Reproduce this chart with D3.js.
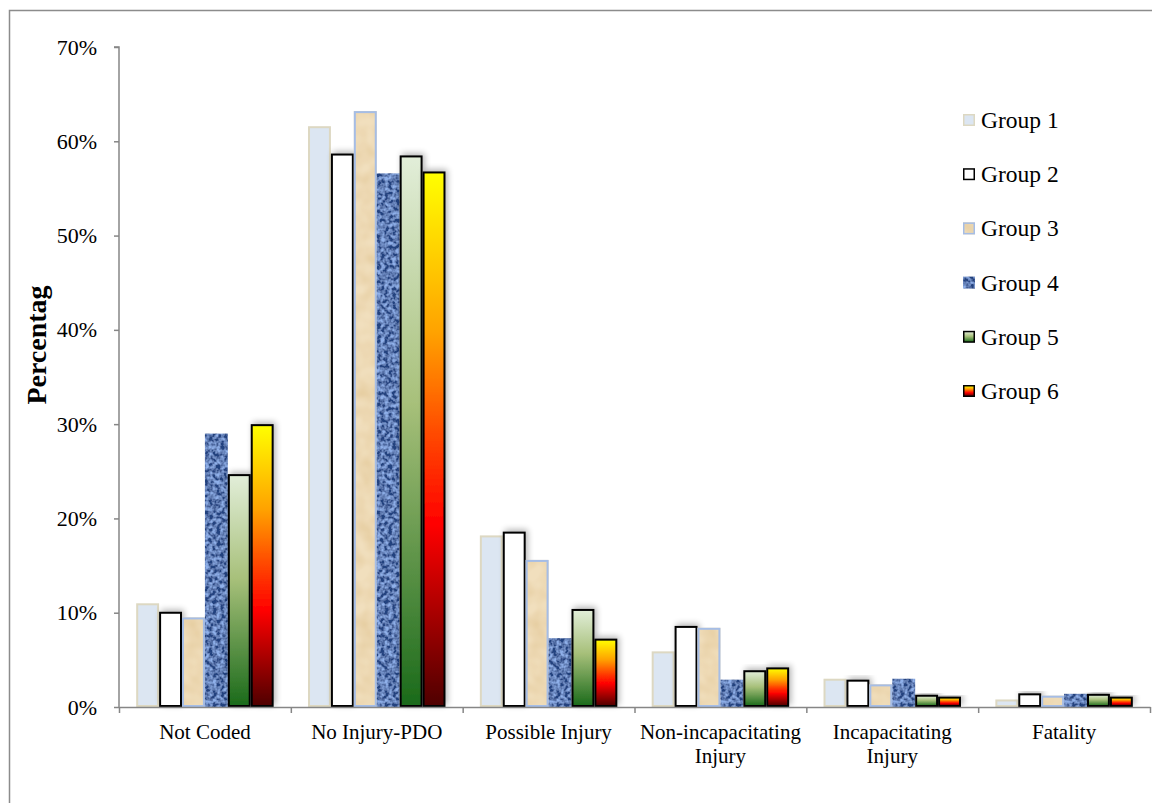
<!DOCTYPE html>
<html>
<head>
<meta charset="utf-8">
<script src="https://cdn.jsdelivr.net/npm/d3@7"></script>
<style>
  html, body { margin: 0; padding: 0; background: #fff; }
  svg { display: block; font-family: "Liberation Serif", "Times New Roman", serif; }
</style>
</head>
<body>
<svg id="chart" width="1152" height="803"></svg>
<script>
// Injury severity categories
const categories = ["Not Coded", "No Injury-PDO", "Possible Injury", "Non-incapacitating Injury", "Incapacitating Injury", "Fatality"];
const groups = ["Group 1", "Group 2", "Group 3", "Group 4", "Group 5", "Group 6"];

// Percentage of crashes in each category, per group
const group1 = [11.0, 61.6, 18.2, 5.9, 3.0, 0.8];
const group2 = [10.1, 58.7, 18.6, 8.6, 2.9, 1.45];
const group3 = [9.5, 63.2, 15.6, 8.4, 2.4, 1.2];
const group4 = [29.0, 56.6, 7.3, 2.9, 3.0, 1.4];
const group5 = [24.7, 58.5, 10.4, 3.9, 1.3, 1.4];
const group6 = [30.0, 56.8, 7.25, 4.2, 1.1, 1.1];

const yTicks = [0, 10, 20, 30, 40, 50, 60, 70];

const series = [group1, group2, group3, group4, group5, group6];

const svg = d3.select("#chart");
const W = 1152, H = 803;
const plot = { left: 119, right: 1150, top: 47, bottom: 707 };

// Outer chart frame (open on the right)
svg.append("path")
  .attr("d", `M${W},10.5 H9.5 V${H}`)
  .attr("fill", "none").attr("stroke", "#8c8c8c").attr("stroke-width", 1.5);

const defs = svg.append("defs");

// Gradients for groups 5 and 6
const g5 = defs.append("linearGradient").attr("id", "grad5").attr("x1", 0).attr("y1", 0).attr("x2", 0).attr("y2", 1);
[["0%", "#e2eed9"], ["45%", "#a7c07a"], ["100%", "#1a6a1a"]].forEach(s => g5.append("stop").attr("offset", s[0]).attr("stop-color", s[1]));
const g6 = defs.append("linearGradient").attr("id", "grad6").attr("x1", 0).attr("y1", 0).attr("x2", 0).attr("y2", 1);
[["0%", "#ffff00"], ["30%", "#ffa200"], ["52%", "#ff3c00"], ["66%", "#ff0000"], ["100%", "#4e0000"]].forEach(s => g6.append("stop").attr("offset", s[0]).attr("stop-color", s[1]));

// Denim-like texture for group 4
const denim = defs.append("filter").attr("id", "denim").attr("x", 0).attr("y", 0).attr("width", 1).attr("height", 1);
denim.append("feTurbulence").attr("type", "fractalNoise").attr("baseFrequency", 0.26).attr("numOctaves", 2).attr("seed", 3).attr("result", "noise");
denim.append("feColorMatrix").attr("in", "noise").attr("type", "matrix")
  .attr("values", "0 0 0 0 0  0 0 0 0 0  0 0 0 0 0  0 0 0 -2.4 1.8").attr("result", "mask");
denim.append("feFlood").attr("flood-color", "#8fb0ea").attr("result", "light");
denim.append("feFlood").attr("flood-color", "#24427f").attr("result", "dark");
denim.append("feComposite").attr("in", "dark").attr("in2", "mask").attr("operator", "in").attr("result", "darkSpots");
denim.append("feComposite").attr("in", "darkSpots").attr("in2", "light").attr("operator", "over").attr("result", "tex");
denim.append("feComposite").attr("in", "tex").attr("in2", "SourceAlpha").attr("operator", "in");

// Parchment texture for group 3
const parch = defs.append("filter").attr("id", "parch").attr("x", 0).attr("y", 0).attr("width", 1).attr("height", 1);
parch.append("feTurbulence").attr("type", "fractalNoise").attr("baseFrequency", 0.06).attr("numOctaves", 2).attr("seed", 7).attr("result", "noise");
parch.append("feColorMatrix").attr("in", "noise").attr("type", "matrix")
  .attr("values", "0 0 0 0 0  0 0 0 0 0  0 0 0 0 0  0 0 0 1.2 -0.35").attr("result", "mask");
parch.append("feFlood").attr("flood-color", "#f1dfbd").attr("result", "base");
parch.append("feFlood").attr("flood-color", "#e2c796").attr("result", "spot");
parch.append("feComposite").attr("in", "spot").attr("in2", "mask").attr("operator", "in").attr("result", "spots");
parch.append("feComposite").attr("in", "spots").attr("in2", "base").attr("operator", "over").attr("result", "tex");
parch.append("feComposite").attr("in", "tex").attr("in2", "SourceAlpha").attr("operator", "in");

// Soft shadow for outlined bars
const shadow = defs.append("filter").attr("id", "shadow").attr("x", -0.5).attr("y", -0.2).attr("width", 2).attr("height", 1.4);
shadow.append("feGaussianBlur").attr("in", "SourceAlpha").attr("stdDeviation", 3).attr("result", "blur");
shadow.append("feOffset").attr("in", "blur").attr("dx", 2).attr("dy", -2).attr("result", "off");
shadow.append("feComponentTransfer").attr("in", "off").attr("result", "soft")
  .append("feFuncA").attr("type", "linear").attr("slope", 0.3);
const merge = shadow.append("feMerge");
merge.append("feMergeNode").attr("in", "soft");
merge.append("feMergeNode").attr("in", "SourceGraphic");

// Per-group appearance; textured fills get their outline drawn on top
const styles = [
  { fill: "#dce6f2", stroke: "#ddd8c2", sw: 2, tex: null, filter: null },
  { fill: "#ffffff", stroke: "#000000", sw: 2, tex: null, filter: "url(#shadow)" },
  { fill: "#f1dfbd", stroke: "#a5bde6", sw: 2, tex: "url(#parch)", filter: null },
  { fill: "#5a80c4", stroke: "none", sw: 0, tex: "url(#denim)", filter: null },
  { fill: "url(#grad5)", stroke: "#000000", sw: 2, tex: null, filter: "url(#shadow)" },
  { fill: "url(#grad6)", stroke: "#000000", sw: 2, tex: null, filter: "url(#shadow)" }
];

function drawBox(g, st, x0, y0, w, h, sw) {
  const inset = sw / 2;
  if (st.tex) {
    g.append("rect").attr("x", x0).attr("y", y0).attr("width", w).attr("height", h)
      .attr("fill", st.fill).attr("filter", st.tex);
    if (st.stroke !== "none") {
      g.append("rect").attr("x", x0 + inset).attr("y", y0 + inset)
        .attr("width", Math.max(0, w - sw)).attr("height", Math.max(0, h - sw))
        .attr("fill", "none").attr("stroke", st.stroke).attr("stroke-width", sw);
    }
  } else {
    g.append("rect").attr("x", x0 + inset).attr("y", y0 + inset)
      .attr("width", Math.max(0, w - sw)).attr("height", Math.max(0, h - sw))
      .attr("fill", st.fill).attr("stroke", st.stroke).attr("stroke-width", sw)
      .attr("filter", st.filter);
  }
}

const x = d3.scaleBand().domain(categories).range([plot.left, plot.right]).paddingInner(0.2).paddingOuter(0.1);
const xSub = d3.scaleBand().domain(groups).range([0, x.bandwidth()]);
const y = d3.scaleLinear().domain([0, 70]).range([plot.bottom, plot.top]);

// Bars
const catG = svg.append("g").selectAll("g").data(categories).join("g")
  .attr("transform", c => `translate(${x(c)},0)`);
catG.each(function (c, ci) {
  const g = d3.select(this);
  groups.forEach((grp, gi) => {
    const v = series[gi][ci];
    drawBox(g, styles[gi], xSub(grp), y(v), xSub.bandwidth(), y(0) - y(v), styles[gi].sw);
  });
});

// Y axis
const yAxis = svg.append("g").attr("transform", `translate(${plot.left},0)`)
  .call(d3.axisLeft(y).tickValues(yTicks).tickFormat(d => d + "%").tickSize(5).tickPadding(17));
yAxis.select(".domain").attr("stroke", "#868686").attr("stroke-width", 1.5).attr("d", `M-5,${plot.top}H0V${plot.bottom}`);
yAxis.selectAll(".tick line").attr("stroke", "#868686").attr("stroke-width", 1.5);
yAxis.selectAll("text").attr("font-size", 22).attr("fill", "#000").attr("font-family", "Liberation Serif");

// X axis: boundary ticks
const bound = d3.scaleLinear().domain([0, categories.length]).range([plot.left, plot.right]);
const xTicks = svg.append("g").attr("transform", `translate(0,${plot.bottom})`)
  .call(d3.axisBottom(bound).ticks(categories.length).tickFormat("").tickSize(6).tickSizeOuter(0));
xTicks.select(".domain").attr("stroke", "#868686").attr("stroke-width", 1.5);
xTicks.selectAll(".tick line").attr("stroke", "#868686").attr("stroke-width", 1.5);

// X axis: category labels (wrapped)
const labelSize = 21;
const xLabels = svg.append("g").attr("transform", `translate(0,${plot.bottom})`)
  .call(d3.axisBottom(x).tickSize(0).tickPadding(0));
xLabels.select(".domain").remove();
xLabels.selectAll("text")
  .attr("font-size", labelSize).attr("fill", "#000").attr("font-family", "Liberation Serif")
  .each(function (d) {
    const t = d3.select(this);
    t.text(null).attr("y", 0).attr("dy", null);
    const probe = svg.append("text").attr("font-size", labelSize).attr("font-family", "Liberation Serif").text(d);
    const w = probe.node().getComputedTextLength();
    probe.remove();
    let lines = [d];
    if (w > 160) {
      const i = d.lastIndexOf(" ");
      lines = [d.slice(0, i), d.slice(i + 1)];
    }
    lines.forEach((ln, k) => t.append("tspan").attr("x", 0).attr("y", 32 + k * 24).text(ln));
  });

// Y axis title
svg.append("text")
  .attr("transform", "translate(46,345) rotate(-90)")
  .attr("text-anchor", "middle")
  .attr("font-size", 28).attr("font-weight", "bold").attr("font-family", "Liberation Serif")
  .text("Percentag");

// Legend
const legend = svg.append("g").attr("transform", "translate(963,120)");
groups.forEach((grp, gi) => {
  const st = styles[gi];
  const row = legend.append("g").attr("transform", `translate(0,${gi * 54.2})`);
  drawBox(row, { ...st, filter: null }, 0, -6, 12, 12, Math.min(st.sw, 1.5));
  row.append("text").attr("x", 18).attr("y", 8)
    .attr("font-size", 23.5).attr("font-family", "Liberation Serif").attr("fill", "#000")
    .text(grp);
});
</script>
</body>
</html>
